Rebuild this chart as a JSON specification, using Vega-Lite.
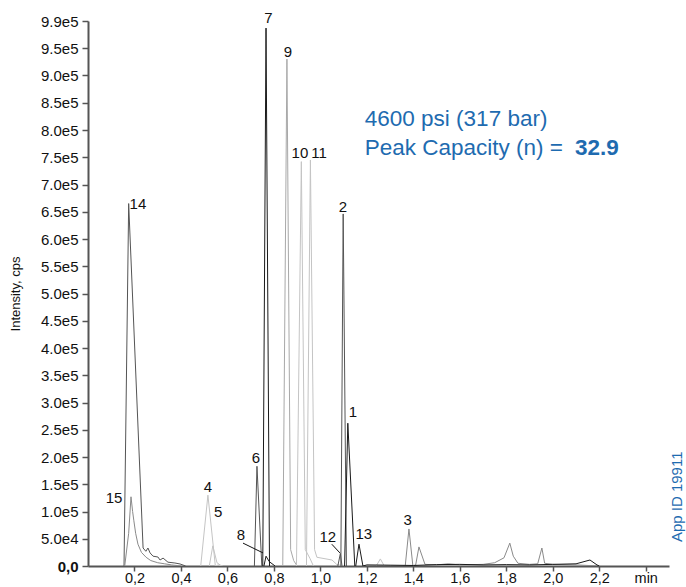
{
  "$schema": "https://vega.github.io/schema/vega-lite/v6.json",
  "width": 581,
  "height": 545,
  "autosize": {"type": "none"},
  "padding": {"left": 88, "top": 21, "right": 17, "bottom": 21},
  "config": {
    "view": {"stroke": null},
    "font": "Liberation Sans",
    "axis": {
      "grid": false,
      "domainColor": "#555555",
      "domainWidth": 2,
      "tickColor": "#555555",
      "tickWidth": 1.5,
      "tickSize": 6,
      "labelFont": "Liberation Sans",
      "labelFontSize": 14,
      "labelColor": "#111111",
      "labelOverlap": false,
      "titleFont": "Liberation Sans",
      "titleFontWeight": "normal",
      "titleColor": "#111111"
    }
  },
  "datasets": {
    "traces": [
      {"s": "p14", "c": "d", "t": 0.155, "y": 0},
      {"s": "p14", "c": "d", "t": 0.175, "y": 665000},
      {"s": "p14", "c": "d", "t": 0.237, "y": 33000},
      {"s": "p14", "c": "d", "t": 0.249, "y": 27000},
      {"s": "p14", "c": "d", "t": 0.258, "y": 33000},
      {"s": "p14", "c": "d", "t": 0.267, "y": 24000},
      {"s": "p14", "c": "d", "t": 0.28, "y": 18000},
      {"s": "p14", "c": "d", "t": 0.301, "y": 16500},
      {"s": "p14", "c": "d", "t": 0.31, "y": 11000},
      {"s": "p14", "c": "d", "t": 0.323, "y": 14500},
      {"s": "p14", "c": "d", "t": 0.344, "y": 7000},
      {"s": "p14", "c": "d", "t": 0.374, "y": 5500},
      {"s": "p14", "c": "d", "t": 0.396, "y": 3700},
      {"s": "p14", "c": "d", "t": 0.42, "y": 0},
      {"s": "p15", "c": "m", "t": 0.158, "y": 0},
      {"s": "p15", "c": "m", "t": 0.175, "y": 60000},
      {"s": "p15", "c": "m", "t": 0.185, "y": 127000},
      {"s": "p15", "c": "m", "t": 0.192, "y": 100000},
      {"s": "p15", "c": "m", "t": 0.197, "y": 84000},
      {"s": "p15", "c": "m", "t": 0.205, "y": 60000},
      {"s": "p15", "c": "m", "t": 0.215, "y": 40000},
      {"s": "p15", "c": "m", "t": 0.23, "y": 25000},
      {"s": "p15", "c": "m", "t": 0.25, "y": 16000},
      {"s": "p15", "c": "m", "t": 0.27, "y": 10000},
      {"s": "p15", "c": "m", "t": 0.3, "y": 6000},
      {"s": "p15", "c": "m", "t": 0.33, "y": 4000},
      {"s": "p15", "c": "m", "t": 0.36, "y": 2000},
      {"s": "p15", "c": "m", "t": 0.4, "y": 0},
      {"s": "p4", "c": "l", "t": 0.485, "y": 0},
      {"s": "p4", "c": "l", "t": 0.516, "y": 130000},
      {"s": "p4", "c": "l", "t": 0.548, "y": 0},
      {"s": "p4", "c": "l", "t": 0.56, "y": 2000},
      {"s": "p4", "c": "l", "t": 0.58, "y": 0},
      {"s": "p5", "c": "l", "t": 0.522, "y": 0},
      {"s": "p5", "c": "l", "t": 0.537, "y": 37000},
      {"s": "p5", "c": "l", "t": 0.555, "y": 6000},
      {"s": "p5", "c": "l", "t": 0.575, "y": 0},
      {"s": "p6", "c": "d", "t": 0.716, "y": 0},
      {"s": "p6", "c": "d", "t": 0.727, "y": 183000},
      {"s": "p6", "c": "d", "t": 0.748, "y": 0},
      {"s": "p9", "c": "m2", "t": 0.838, "y": 0},
      {"s": "p9", "c": "m2", "t": 0.856, "y": 930000},
      {"s": "p9", "c": "m2", "t": 0.872, "y": 30000},
      {"s": "p9", "c": "m2", "t": 0.885, "y": 10000},
      {"s": "p9", "c": "m2", "t": 0.9, "y": 0},
      {"s": "p10", "c": "l", "t": 0.897, "y": 0},
      {"s": "p10", "c": "l", "t": 0.918, "y": 742000},
      {"s": "p10", "c": "l", "t": 0.935, "y": 30000},
      {"s": "p10", "c": "l", "t": 0.955, "y": 14000},
      {"s": "p10", "c": "l", "t": 0.97, "y": 0},
      {"s": "p11", "c": "l", "t": 0.94, "y": 0},
      {"s": "p11", "c": "l", "t": 0.957, "y": 745000},
      {"s": "p11", "c": "l", "t": 0.975, "y": 30000},
      {"s": "p11", "c": "l", "t": 0.985, "y": 16000},
      {"s": "p11", "c": "l", "t": 1.05, "y": 11000},
      {"s": "p11", "c": "l", "t": 1.07, "y": 3000},
      {"s": "p11", "c": "l", "t": 1.1, "y": 0},
      {"s": "p126", "c": "l", "t": 1.24, "y": 0},
      {"s": "p126", "c": "l", "t": 1.258, "y": 13000},
      {"s": "p126", "c": "l", "t": 1.275, "y": 0},
      {"s": "p3", "c": "m", "t": 1.365, "y": 0},
      {"s": "p3", "c": "m", "t": 1.381, "y": 68000},
      {"s": "p3", "c": "m", "t": 1.398, "y": 0},
      {"s": "p3", "c": "m", "t": 1.41, "y": 2000},
      {"s": "p3", "c": "m", "t": 1.424, "y": 35000},
      {"s": "p3", "c": "m", "t": 1.45, "y": 3000},
      {"s": "p3", "c": "m", "t": 1.5, "y": 2000},
      {"s": "p3", "c": "m", "t": 1.55, "y": 4000},
      {"s": "p3", "c": "m", "t": 1.6, "y": 2000},
      {"s": "p3", "c": "m", "t": 1.7, "y": 3000},
      {"s": "p3", "c": "m", "t": 1.75, "y": 6000},
      {"s": "p3", "c": "m", "t": 1.79, "y": 15000},
      {"s": "p3", "c": "m", "t": 1.815, "y": 42000},
      {"s": "p3", "c": "m", "t": 1.83, "y": 18000},
      {"s": "p3", "c": "m", "t": 1.85, "y": 5000},
      {"s": "p3", "c": "m", "t": 1.9, "y": 3000},
      {"s": "p3", "c": "m", "t": 1.935, "y": 4000},
      {"s": "p3", "c": "m", "t": 1.953, "y": 33000},
      {"s": "p3", "c": "m", "t": 1.965, "y": 5000},
      {"s": "p3", "c": "m", "t": 2.0, "y": 3000},
      {"s": "p3", "c": "m", "t": 2.1, "y": 2000},
      {"s": "p3", "c": "m", "t": 2.2, "y": 0},
      {"s": "p12", "c": "d", "t": 1.075, "y": 0},
      {"s": "p12", "c": "d", "t": 1.086, "y": 23000},
      {"s": "p12", "c": "d", "t": 1.093, "y": 0},
      {"s": "p2", "c": "d", "t": 1.088, "y": 0},
      {"s": "p2", "c": "d", "t": 1.098, "y": 646000},
      {"s": "p2", "c": "d", "t": 1.112, "y": 0},
      {"s": "p7", "c": "k", "t": 0.752, "y": 0},
      {"s": "p7", "c": "k", "t": 0.766, "y": 987000},
      {"s": "p7", "c": "k", "t": 0.781, "y": 0},
      {"s": "p8", "c": "k", "t": 0.757, "y": 0},
      {"s": "p8", "c": "k", "t": 0.766, "y": 18000},
      {"s": "p8", "c": "k", "t": 0.78, "y": 8000},
      {"s": "p8", "c": "k", "t": 0.805, "y": 0},
      {"s": "p1", "c": "k", "t": 1.104, "y": 0},
      {"s": "p1", "c": "k", "t": 1.118, "y": 262000},
      {"s": "p1", "c": "k", "t": 1.148, "y": 0},
      {"s": "p13", "c": "k", "t": 1.152, "y": 0},
      {"s": "p13", "c": "k", "t": 1.166, "y": 40000},
      {"s": "p13", "c": "k", "t": 1.183, "y": 0},
      {"s": "p13", "c": "k", "t": 1.2, "y": 2000},
      {"s": "p13", "c": "k", "t": 1.3, "y": 1500},
      {"s": "p13", "c": "k", "t": 1.4, "y": 1000},
      {"s": "p13", "c": "k", "t": 1.5, "y": 2500},
      {"s": "p13", "c": "k", "t": 1.6, "y": 3000},
      {"s": "p13", "c": "k", "t": 1.7, "y": 2000},
      {"s": "p13", "c": "k", "t": 1.8, "y": 2500},
      {"s": "p13", "c": "k", "t": 1.9, "y": 2000},
      {"s": "p13", "c": "k", "t": 2.0, "y": 3000},
      {"s": "p13", "c": "k", "t": 2.1, "y": 4000},
      {"s": "p13", "c": "k", "t": 2.16, "y": 11000},
      {"s": "p13", "c": "k", "t": 2.19, "y": 2000},
      {"s": "p13", "c": "k", "t": 2.2, "y": 0}
    ],
    "labels": [
      {"label": "7", "t": 0.776, "y": 1005000},
      {"label": "9", "t": 0.86, "y": 943000},
      {"label": "10", "t": 0.912, "y": 758000},
      {"label": "11", "t": 0.994, "y": 758000},
      {"label": "2", "t": 1.097, "y": 659000},
      {"label": "14", "t": 0.215, "y": 664000},
      {"label": "15", "t": 0.112, "y": 125000},
      {"label": "4", "t": 0.516, "y": 145000},
      {"label": "5", "t": 0.56, "y": 99000},
      {"label": "6", "t": 0.723, "y": 198000},
      {"label": "8", "t": 0.658, "y": 57000},
      {"label": "1", "t": 1.14, "y": 283000},
      {"label": "12", "t": 1.032, "y": 53000},
      {"label": "13", "t": 1.187, "y": 59000},
      {"label": "3", "t": 1.376, "y": 84000}
    ],
    "leaders": [
      {"t": 0.667, "y": 42000, "t2": 0.753, "y2": 24000},
      {"t": 1.049, "y": 40000, "t2": 1.084, "y2": 24000}
    ],
    "notes": [
      {"text": "4600 psi (317 bar)", "t": 1.191, "y": 807000},
      {"text": "Peak Capacity (n) =", "t": 1.191, "y": 754000}
    ],
    "bold": [
      {"text": "32.9", "t": 2.095, "y": 754000}
    ],
    "appid": [
      {"text": "App ID 19911", "t": 2.533, "y": 127000}
    ]
  },
  "encoding": {
    "x": {
      "field": "t", "type": "quantitative",
      "scale": {"domain": [0, 2.5], "nice": false, "zero": false},
      "axis": {
        "title": null,
        "tickSize": 5,
        "labelFontSize": 14.5,
        "values": [0.2, 0.4, 0.6, 0.8, 1.0, 1.2, 1.4, 1.6, 1.8, 2.0, 2.2, 2.4],
        "labelExpr": "datum.value > 2.3 ? 'min' : replace(format(datum.value, '.1f'), '.', ',')",
        "labelPadding": 0
      }
    },
    "y": {
      "field": "y", "type": "quantitative",
      "scale": {"domain": [0, 1000000], "nice": false},
      "axis": {
        "title": "Intensity, cps",
        "titleFontSize": 13,
        "titlePadding": 18,
        "labelFontSize": 15,
        "labelOverlap": false,
        "values": [0, 50000, 100000, 150000, 200000, 250000, 300000, 350000, 400000, 450000, 500000, 550000, 600000, 650000, 700000, 750000, 800000, 850000, 900000, 950000, 1000000],
        "labelExpr": "datum.value == 0 ? '0,0' : (datum.value >= 1000000 ? '9.9e5' : replace(format(datum.value, '.1e'), 'e+', 'e'))",
        "labelFontWeight": {"condition": {"test": "datum.value == 0", "value": "bold"}, "value": "normal"},
        "labelPadding": 4
      }
    }
  },
  "layer": [
    {
      "data": {"name": "traces"},
      "mark": {"type": "line", "strokeWidth": 1, "clip": true},
      "encoding": {
        "color": {
          "field": "c", "type": "nominal", "legend": null,
          "scale": {"domain": ["l", "m2", "m", "d", "k"], "range": ["#c4c4c4", "#a8a8a8", "#8a8a8a", "#555555", "#1a1a1a"]}
        },
        "detail": {"field": "s"}
      }
    },
    {
      "data": {"name": "leaders"},
      "mark": {"type": "rule", "color": "#111111", "strokeWidth": 1},
      "encoding": {
        "x2": {"field": "t2"},
        "y2": {"field": "y2"}
      }
    },
    {
      "data": {"name": "labels"},
      "mark": {"type": "text", "fontSize": 15, "color": "#111111", "align": "center", "baseline": "middle", "clip": false},
      "encoding": {
        "text": {"field": "label"}
      }
    },
    {
      "data": {"name": "notes"},
      "mark": {"type": "text", "fontSize": 22.5, "color": "#1e6bb0", "align": "left", "baseline": "alphabetic"},
      "encoding": {
        "text": {"field": "text"}
      }
    },
    {
      "data": {"name": "bold"},
      "mark": {"type": "text", "fontSize": 22.5, "fontWeight": "bold", "color": "#1e6bb0", "align": "left", "baseline": "alphabetic"},
      "encoding": {
        "text": {"field": "text"}
      }
    },
    {
      "data": {"name": "appid"},
      "mark": {"type": "text", "fontSize": 15, "color": "#1e6bb0", "align": "center", "baseline": "middle", "angle": 270},
      "encoding": {
        "text": {"field": "text"}
      }
    }
  ]
}
